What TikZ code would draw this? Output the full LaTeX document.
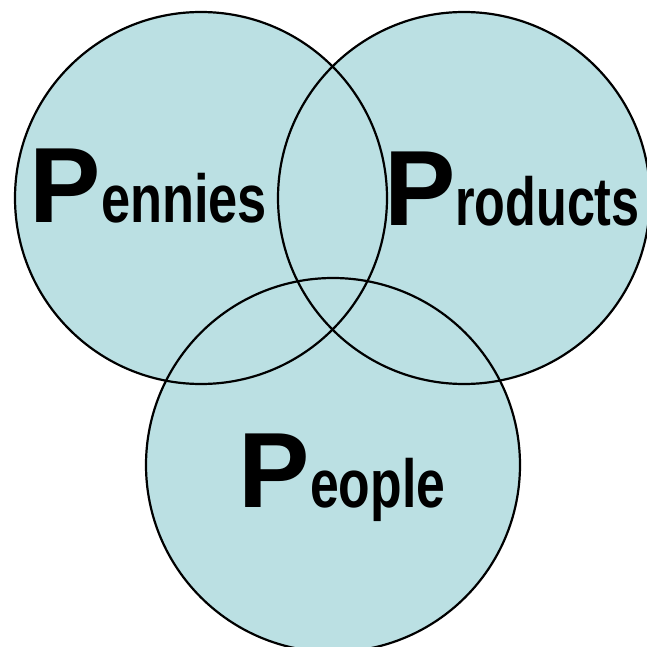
\documentclass[tikz,border=0pt]{standalone}
\usepackage{fontspec}
\setmainfont{Liberation Sans}
\usepackage{graphicx}
\definecolor{venn}{RGB}{187,224,227}
\begin{document}
\begin{tikzpicture}[x=1pt,y=-1pt,
  ring/.style={draw=black, line width=2.2pt},
  disc/.style={fill=venn},
  bigp/.style={anchor=base west, inner sep=0pt, font=\fontsize{107}{110}\selectfont\bfseries},
  rest/.style={anchor=base west, inner sep=0pt, font=\fontsize{68}{72}\selectfont\bfseries}]
\useasboundingbox (0,0) rectangle (647,647);
\coordinate (c1) at (201,198);
\coordinate (c2) at (464,198);
\coordinate (c3) at (333,465);
\fill[disc] (c1) circle[radius=186];
\fill[disc] (c2) circle[radius=186];
\fill[disc] (c3) circle[radius=187];
\draw[ring] (c1) circle[radius=186];
\draw[ring] (c2) circle[radius=186];
\draw[ring] (c3) circle[radius=187];
\node[bigp] (penP) at (29,222) {P};
\node[rest] (penR) at (101,222) {\scalebox{0.77}[1]{ennies}};
\node[bigp] (proP) at (384,225) {P};
\node[rest] (proR) at (455,225) {\scalebox{0.74}[1]{roducts}};
\node[bigp] (peoP) at (238,507) {P};
\node[rest] (peoR) at (310,507) {\scalebox{0.76}[1]{eople}};
\end{tikzpicture}
\end{document}
